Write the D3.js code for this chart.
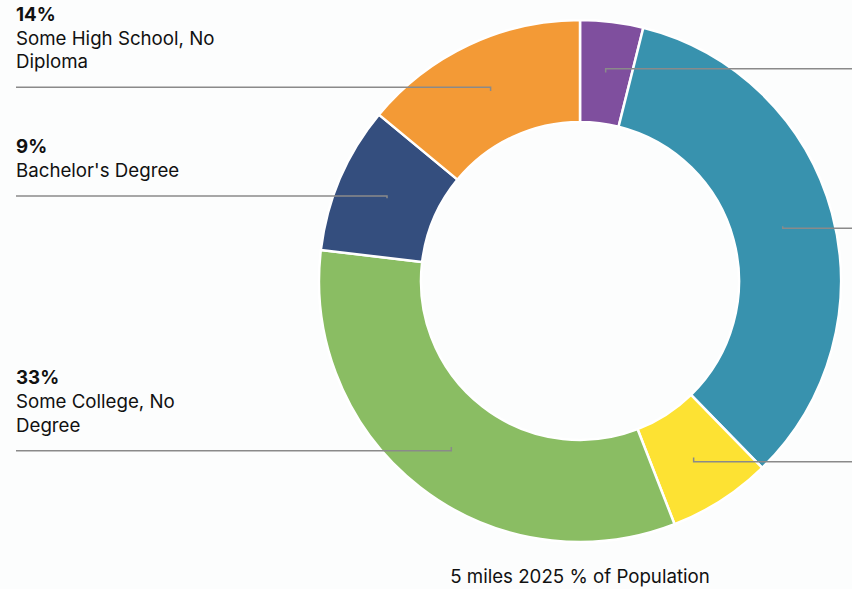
<!DOCTYPE html>
<html>
<head>
<meta charset="utf-8">
<script src="https://cdn.jsdelivr.net/npm/d3@7"></script>
<style>
  html, body { margin: 0; padding: 0; background: #fcfdfd; }
  svg { display: block; font-family: Inter, "Noto Sans", sans-serif; }
</style>
</head>
<body>
<svg id="chart" width="852" height="589"></svg>
<script>
// ---- data ----
const categories = ["Graduate Degree", "High School Graduate", "Associate Degree",
                    "Some College, No Degree", "Bachelor's Degree", "Some High School, No Diploma"];
const values = [3.9, 33.8, 6.4, 32.8, 9.1, 14.0];
const colors = ["#7f4f9e", "#3892ae", "#fde233", "#8abd63", "#344e7e", "#f39a36"];
const caption = "5 miles 2025 % of Population";

// ---- layout ----
const W = 852, H = 589;
const cx = 580, cy = 281, rOuter = 261, rInner = 159, rAnchor = 210;
const labelLineY = [68.7, 228.3, 461.7, 450.7, 196, 87.3]; // leader line heights
const leftX = 16, rightX = 852, wrapWidth = 212, lineH = 23.7, fontSize = 18.7;

const svg = d3.select("#chart");
const g = svg.append("g").attr("transform", `translate(${cx},${cy})`);

const data = categories.map((c, i) => ({ name: c, value: values[i], color: colors[i], ly: labelLineY[i] }));

const pie = d3.pie().value(d => d.value).sort(null);
const arcs = pie(data);
const arc = d3.arc().innerRadius(rInner).outerRadius(rOuter);
const anchorArc = d3.arc().innerRadius(rAnchor).outerRadius(rAnchor);

g.selectAll("path.slice").data(arcs).join("path")
  .attr("class", "slice")
  .attr("d", arc)
  .attr("fill", d => d.data.color)
  .attr("stroke", "#ffffff")
  .attr("stroke-width", 2.5)
  .attr("stroke-linejoin", "round");

// leader lines
arcs.forEach(a => {
  const [ax, ay] = anchorArc.centroid(a);
  const mid = (a.startAngle + a.endAngle) / 2;
  const isLeft = mid > Math.PI;
  const px = cx + ax, py = cy + ay;
  const edge = isLeft ? leftX : rightX;
  svg.append("polyline")
    .attr("points", `${px},${py} ${px},${a.data.ly} ${edge},${a.data.ly}`)
    .attr("fill", "none")
    .attr("stroke", "#8a8a8a")
    .attr("stroke-width", 1.5);

  if (isLeft) {
    // wrap name
    const words = a.data.name.split(" ");
    const tmp = svg.append("text").attr("font-size", fontSize);
    const lines = [];
    let cur = "";
    words.forEach(w => {
      const test = cur ? cur + " " + w : w;
      tmp.text(test);
      if (tmp.node().getComputedTextLength() > wrapWidth && cur) {
        lines.push(cur); cur = w;
      } else cur = test;
    });
    if (cur) lines.push(cur);
    tmp.remove();
    const lastBase = a.data.ly - 19;
    const firstBase = lastBase - lineH * lines.length;
    const t = svg.append("text").attr("x", leftX).attr("font-size", fontSize).attr("fill", "#111");
    t.append("tspan").attr("x", leftX).attr("y", firstBase)
      .attr("font-weight", 700).text(Math.round(a.data.value) + "%");
    lines.forEach((l, i) => {
      t.append("tspan").attr("x", leftX).attr("y", firstBase + lineH * (i + 1)).text(l);
    });
  }
});

svg.append("text")
  .attr("x", 580).attr("y", 583)
  .attr("text-anchor", "middle")
  .attr("font-size", fontSize)
  .attr("fill", "#111")
  .text(caption);
</script>
</body>
</html>
